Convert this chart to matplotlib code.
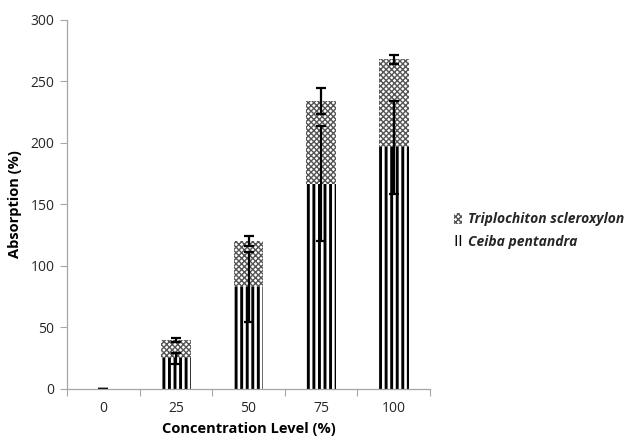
import matplotlib

matplotlib.use("Agg")
import matplotlib.pyplot as plt
import numpy as np
from matplotlib.patches import Patch

# data
levels = ["0", "25", "50", "75", "100"]
ceiba = [0.0, 25.0, 83.0, 167.0, 196.5]
ceiba_err = [0.0, 4.5, 28.5, 46.5, 38.0]
triplo = [0.0, 15.0, 37.0, 67.0, 71.5]
triplo_err = [0.0, 1.6, 4.0, 10.5, 3.8]
yticks = [0, 50, 100, 150, 200, 250, 300]

axis_grey = "#a6a6a6"
text_col = "#262626"
cross_col = "#555555"

plt.rcParams.update(
    {
        "font.family": ["Open Sans", "DejaVu Sans"],
        "font.size": 10,
        "text.color": text_col,
        "xtick.color": axis_grey,
        "ytick.color": axis_grey,
        "xtick.labelcolor": text_col,
        "ytick.labelcolor": text_col,
    }
)

fig = plt.figure(figsize=(6.38, 4.43), dpi=100)
ax = fig.add_axes([0.105, 0.122, 0.569, 0.833])

x = np.arange(len(levels))
width = 0.41

with plt.rc_context({"hatch.linewidth": 2.1}):
    ax.bar(x, ceiba, width, color="white", edgecolor="black", hatch="|||",
           linewidth=0, label="Ceiba pentandra")
with plt.rc_context({"hatch.linewidth": 1.0}):
    ax.bar(x, triplo, width, bottom=ceiba, color="white", edgecolor=cross_col,
           hatch="xxxxxx", linewidth=0, label="Triplochiton scleroxylon")

tops = np.array(ceiba) + np.array(triplo)
ax.errorbar(x, ceiba, yerr=ceiba_err, fmt="none", ecolor="black",
            elinewidth=1.6, capsize=3.5, capthick=1.6)
ax.errorbar(x, tops, yerr=triplo_err, fmt="none", ecolor="black",
            elinewidth=1.6, capsize=3.5, capthick=1.6)

ax.set_xlim(-0.5, len(levels) - 0.5)
ax.set_ylim(0, 300)
ax.set_yticks(yticks)
ax.set_xticks(x, labels=levels)
ax.set_xticks(np.arange(len(levels) + 1) - 0.5, minor=True)
ax.tick_params(axis="x", which="major", length=0, pad=9)
ax.tick_params(axis="x", which="minor", length=5, width=0.8, color=axis_grey)
ax.tick_params(axis="y", length=5, width=0.8, pad=4)

for side in ("top", "right"):
    ax.spines[side].set_visible(False)
for side in ("left", "bottom"):
    ax.spines[side].set_color(axis_grey)
    ax.spines[side].set_linewidth(0.9)

ax.set_ylabel("Absorption (%)", fontweight="bold", fontsize=10.5, labelpad=6)
ax.set_xlabel("Concentration Level (%)", fontweight="bold", fontsize=10.5,
              labelpad=4)

with plt.rc_context({"hatch.linewidth": 1.0}):
    h_triplo = Patch(facecolor="white", edgecolor=cross_col, hatch="xxxxxx",
                     linewidth=0)
with plt.rc_context({"hatch.linewidth": 2.0}):
    h_ceiba = Patch(facecolor="white", edgecolor="black", hatch="||||",
                    linewidth=0)
fig.legend(
    [h_triplo, h_ceiba],
    ["Triplochiton scleroxylon", "Ceiba pentandra"],
    loc="center left",
    bbox_to_anchor=(0.692, 0.48),
    frameon=False,
    handlelength=0.6,
    handleheight=0.8,
    handletextpad=0.4,
    labelspacing=0.6,
    prop={"style": "italic", "weight": "bold", "size": 10},
)

fig.savefig("out.png", dpi=100)
